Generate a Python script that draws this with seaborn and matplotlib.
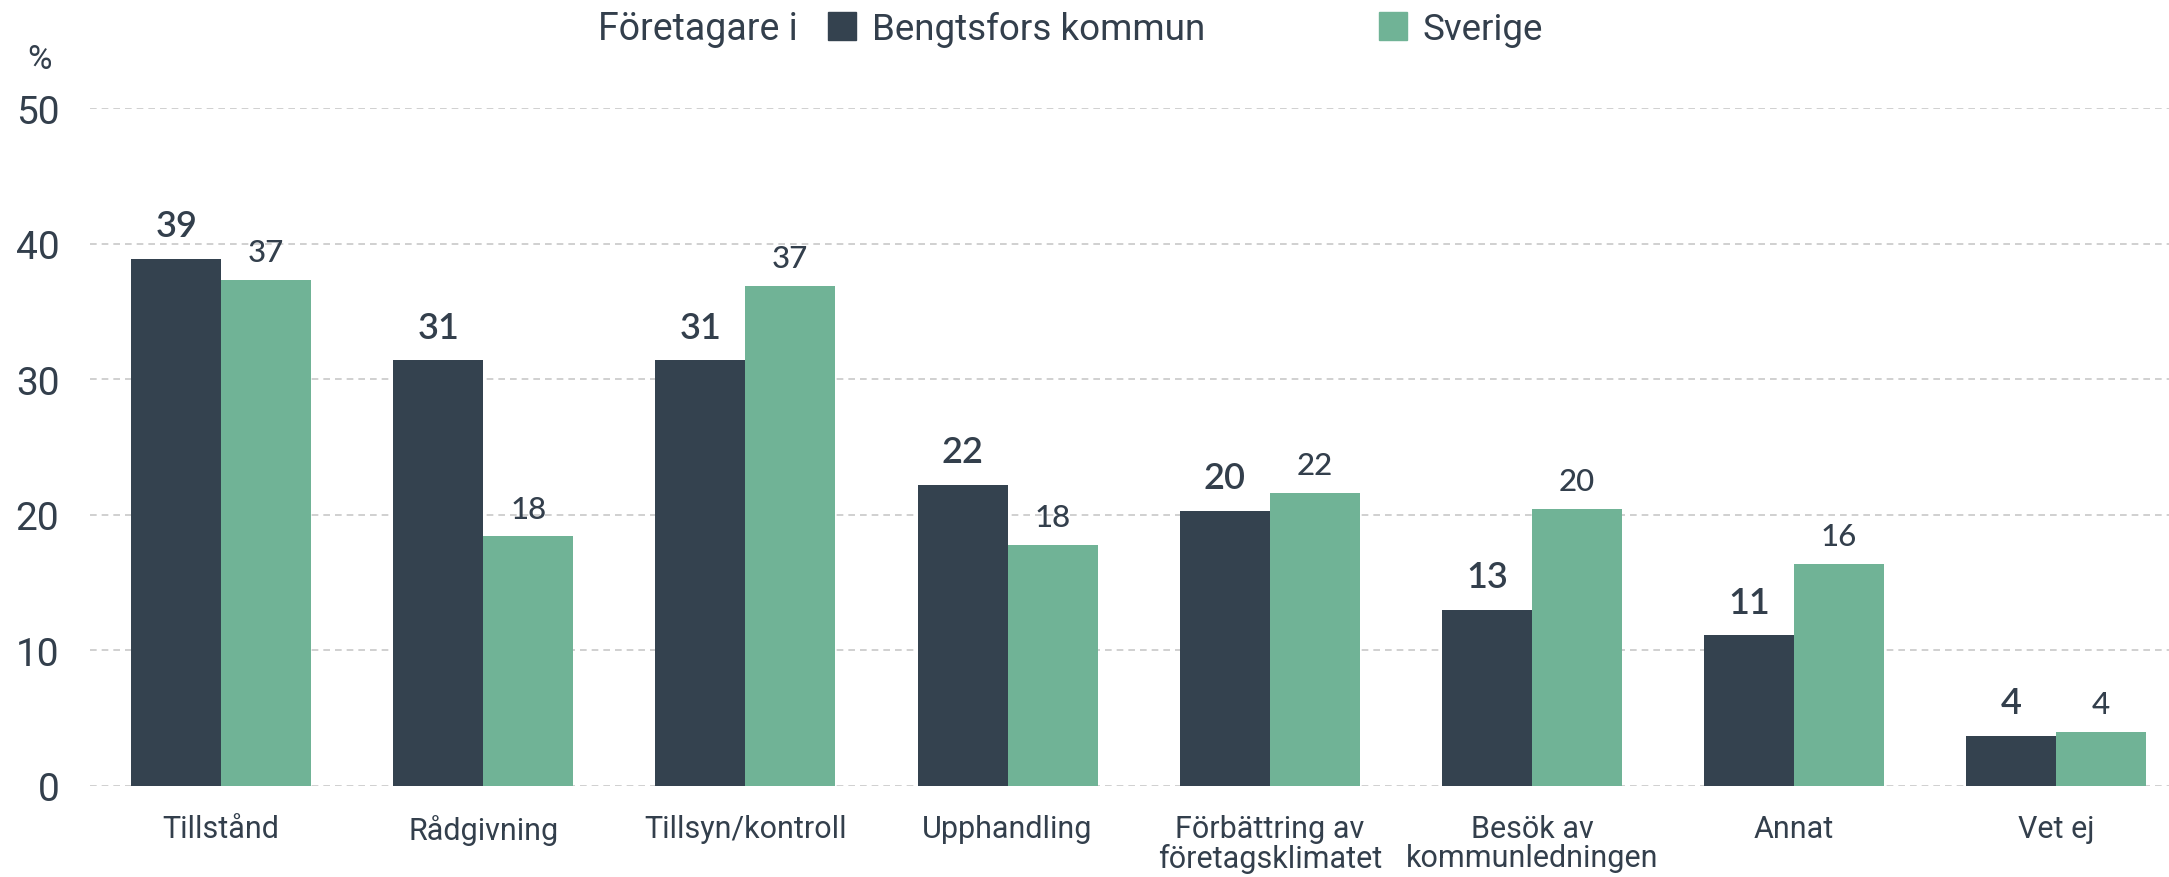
import matplotlib
matplotlib.use("Agg")
import matplotlib.pyplot as plt
from matplotlib.lines import Line2D
import seaborn as sns
import pandas as pd

categories = ["Tillstånd", "Rådgivning", "Tillsyn/kontroll", "Upphandling",
              "Förbättring av\nföretagsklimatet", "Besök av\nkommunledningen",
              "Annat", "Vet ej"]
bengtsfors = [38.9, 31.4, 31.4, 22.2, 20.3, 13.0, 11.1, 3.7]
sverige = [37.3, 18.4, 36.9, 17.8, 21.6, 20.4, 16.4, 4.0]
series_names = ["Bengtsfors kommun", "Sverige"]
yticks = [0, 10, 20, 30, 40, 50]

DARK = "#34424F"
GREEN = "#70B396"
TEXT = "#333F4C"

df = pd.DataFrame({
    "kategori": categories * 2,
    "serie": [series_names[0]] * len(categories) + [series_names[1]] * len(categories),
    "värde": bengtsfors + sverige,
})

sns.set_theme(style="white")
plt.rcParams["font.family"] = ["Roboto", "DejaVu Sans"]

fig = plt.figure(figsize=(21.69, 8.78), dpi=100)
ax = fig.add_axes([90 / 2169, 91 / 878, 1 - 90 / 2169, (787 - 109) / 878])

sns.barplot(data=df, x="kategori", y="värde", hue="serie", order=categories,
            hue_order=series_names, palette=[DARK, GREEN], width=0.686,
            saturation=1, ax=ax, legend=False, linewidth=0)

ax.set_ylim(0, 50)
ax.set_xlim(-0.5, 7.43)
ax.set_yticks(yticks)
ax.set_yticklabels([str(t) for t in yticks], fontsize=28, color=TEXT)
ax.set_xticks(range(len(categories)))
ax.set_xticklabels(categories, fontsize=22, color=TEXT, linespacing=1.0)
ax.tick_params(axis="x", length=0, pad=20)
ax.tick_params(axis="y", length=0, pad=22)
ax.set_xticks([i - 0.5 for i in range(len(categories))], minor=True)
ax.tick_params(axis="x", which="minor", length=9, color="#cccccc", width=1)
ax.set_xlabel("")
ax.set_ylabel("")

for t in yticks:
    ax.axhline(t, color="#c8c8c8", lw=1.2, ls=(0, (4, 3)), zorder=0)
for s in ax.spines.values():
    s.set_visible(False)

conts = ax.containers
for c, vals, size, weight, pad in [(conts[0], bengtsfors, 26, "semibold", 12),
                                    (conts[1], sverige, 22.5, "medium", 10)]:
    ax.bar_label(c, labels=[f"{round(v):d}" for v in vals], padding=pad,
                 fontsize=size, fontweight=weight, color=TEXT,
                 family=["Lato", "DejaVu Sans"])

fig.text(27 / 2169, 1 - 60 / 878, "%", fontsize=24, color=TEXT, va="center")

fig.text(598 / 2169, 1 - 30 / 878, "Företagare i", fontsize=27, color=TEXT,
         va="center", ha="left")
handles = [Line2D([], [], marker="s", ls="", markersize=20, color=DARK),
           Line2D([], [], marker="s", ls="", markersize=20, color=GREEN)]
fig.legend(handles, series_names, ncol=2, loc="center left",
           bbox_to_anchor=(824 / 2169, 1 - 30 / 878), frameon=False,
           fontsize=26.5, labelcolor=TEXT, handletextpad=0.3,
           columnspacing=4.6, handlelength=1.0, borderaxespad=0, borderpad=0)

fig.savefig("out.png", dpi=100)
